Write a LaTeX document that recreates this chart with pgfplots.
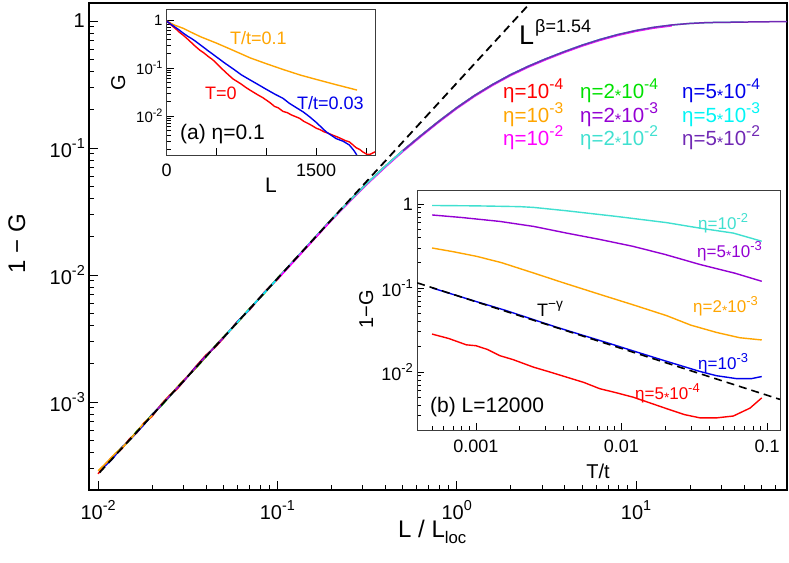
\documentclass[border=0pt]{standalone}
\usepackage{pgfplots}
\pgfplotsset{compat=1.18}
\usepackage{fontspec}
\setmainfont{Liberation Sans}
\newcommand{\fs}[1]{\fontsize{#1}{#1}\selectfont}
\newcommand{\st}{\raisebox{-0.12em}{\scalebox{0.8}{*}}}
\newcommand{\sps}[1]{\raisebox{0.45em}{\scalebox{0.76}{#1}}}
\newcommand{\tsp}[1]{\raisebox{0.42em}{\scalebox{0.72}{#1}}}
\definecolor{cRed}{RGB}{255,0,0}
\definecolor{cGreen}{RGB}{0,225,0}
\definecolor{cBlue}{RGB}{0,0,235}
\definecolor{cOrange}{RGB}{255,165,0}
\definecolor{cViolet}{RGB}{148,0,211}
\definecolor{cCyan}{RGB}{0,245,245}
\definecolor{cMag}{RGB}{255,0,255}
\definecolor{cTurq}{RGB}{64,224,208}
\definecolor{cPurp}{RGB}{112,40,180}
\definecolor{cFrame}{RGB}{60,60,60}
\begin{document}
\begin{tikzpicture}
\useasboundingbox (0pt,0pt) rectangle (789pt,562pt);
% ---------------- main axis ----------------
\begin{axis}[at={(89pt,72pt)}, anchor=south west, scale only axis,
  width=698pt, height=487pt,
  xmode=log, ymode=log, xmin=0.0089, xmax=69.5, ymin=2.03e-4, ymax=1.387,
  axis line style={line width=1.3pt, black},
  tick align=inside, xtick pos=bottom, ytick pos=left,
  major tick length=9pt, minor tick length=5pt,
  tick style={black, line width=0.9pt},
  xtick={0.01,0.1,1,10},
  xticklabels={10\tsp{-2},10\tsp{-1},10\tsp{0},10\tsp{1}},
  minor xtick={0.02,0.03,0.04,0.05,0.06,0.07,0.08,0.09,0.2,0.3,0.4,0.5,0.6,0.7,0.8,0.9,2,3,4,5,6,7,8,9,20,30,40,50,60},
  ytick={1e-3,1e-2,1e-1,1},
  yticklabels={10\tsp{-3},10\tsp{-2},10\tsp{-1},1},
  minor ytick={3e-4,4e-4,5e-4,6e-4,7e-4,8e-4,9e-4,2e-3,3e-3,4e-3,5e-3,6e-3,7e-3,8e-3,9e-3,2e-2,3e-2,4e-2,5e-2,6e-2,7e-2,8e-2,9e-2,0.2,0.3,0.4,0.5,0.6,0.7,0.8,0.9},
  ticklabel style={font=\fs{20}},
  xticklabel style={anchor=base, yshift=-29pt},
  yticklabel style={anchor=east, inner sep=0pt, xshift=-4pt},
  every axis plot/.append style={line width=1.5pt, line join=round},
]
\addplot[cRed] coordinates {(0.0100,2.72e-4)(0.0110,3.25e-4)(0.0120,3.70e-4)(0.0135,4.25e-4)(0.0150,5.15e-4)(0.0165,5.75e-4)(0.0180,6.85e-4)(0.0200,7.70e-4)(0.0225,9.6e-4)(0.0250,1.13e-3)(0.0275,1.26e-3)(0.0300,1.45e-3)(0.0350,1.90e-3)(0.0400,2.35e-3)(0.0450,2.70e-3)(0.0500,3.18e-3)(0.0600,4.33e-3)(0.0700,5.32e-3)(0.0850,7.40e-3)(0.1000,9.25e-3)(0.1250,1.33e-2)(0.1580,1.88e-2)(0.1995,2.73e-2)(0.2512,3.79e-2)(0.3162,5.25e-2)};
\addplot[cGreen] coordinates {(0.0115,3.45e-4)(0.0135,4.35e-4)(0.0150,5.00e-4)(0.0165,5.95e-4)(0.0180,6.70e-4)(0.0200,8.0e-4)(0.0225,9.3e-4)(0.0250,1.10e-3)(0.0275,1.30e-3)(0.0300,1.48e-3)(0.0350,1.84e-3)(0.0400,2.27e-3)(0.0450,2.78e-3)(0.0500,3.25e-3)(0.0600,4.22e-3)(0.0700,5.48e-3)(0.0850,7.22e-3)(0.1000,9.45e-3)(0.1250,1.31e-2)(0.1580,1.90e-2)(0.1995,2.71e-2)(0.2512,3.81e-2)(0.3162,5.27e-2)(0.3981,7.14e-2)(0.5012,9.53e-2)};
\addplot[cBlue] coordinates {(0.0105,2.98e-4)(0.0120,3.55e-4)(0.0135,4.38e-4)(0.0150,5.0e-4)(0.0165,5.80e-4)(0.0180,6.62e-4)(0.0200,7.95e-4)(0.0225,9.5e-4)(0.0250,1.115e-3)(0.0300,1.46e-3)(0.0350,1.88e-3)(0.0400,2.31e-3)(0.0500,3.20e-3)(0.0600,4.30e-3)(0.0700,5.38e-3)(0.0850,7.33e-3)(0.1000,9.33e-3)(0.1250,1.32e-2)(0.1580,1.89e-2)(0.1995,2.72e-2)(0.2512,3.80e-2)(0.3162,5.26e-2)(0.3981,7.14e-2)(0.5012,9.53e-2)(0.6310,0.1250)(0.7943,0.1622)};
\addplot[cOrange] coordinates {(0.0100,2.88e-4)(0.0112,3.35e-4)(0.0125,3.95e-4)(0.0140,4.55e-4)(0.0150,5.02e-4)(0.0170,6.2e-4)(0.0185,7.1e-4)(0.0200,7.80e-4)(0.0230,9.9e-4)(0.0260,1.19e-3)(0.0300,1.49e-3)(0.0350,1.85e-3)(0.0400,2.29e-3)(0.0500,3.24e-3)(0.0600,4.24e-3)(0.0700,5.45e-3)(0.0850,7.27e-3)(0.1000,9.40e-3)(0.1250,1.32e-2)(0.1580,1.90e-2)(0.1995,2.73e-2)(0.2512,3.80e-2)(0.3162,5.27e-2)(0.3981,7.15e-2)(0.5012,9.55e-2)(0.6310,0.1252)(0.7943,0.1625)(1.0,0.2078)(1.259,0.2596)(1.585,0.3164)};
\addplot[cViolet] coordinates {(0.0200,7.87e-4)(0.0250,1.11e-3)(0.0300,1.47e-3)(0.0400,2.30e-3)(0.0500,3.22e-3)(0.0600,4.27e-3)(0.0700,5.41e-3)(0.0850,7.30e-3)(0.1000,9.37e-3)(0.1250,1.32e-2)(0.1580,1.90e-2)(0.1995,2.72e-2)(0.2512,3.80e-2)(0.3162,5.26e-2)(0.3981,7.14e-2)(0.5012,9.53e-2)(0.6310,0.1250)(0.7943,0.1622)(1.0,0.2075)(1.259,0.2594)(1.585,0.3162)(1.995,0.3776)(2.512,0.4406)(3.162,0.5058)};
\addplot[cCyan] coordinates {(0.0500,3.22e-3)(0.0600,4.27e-3)(0.0700,5.41e-3)(0.0850,7.30e-3)(0.1000,9.37e-3)(0.1250,1.32e-2)(0.1580,1.90e-2)(0.1995,2.72e-2)(0.2512,3.80e-2)(0.3162,5.26e-2)(0.3981,7.14e-2)(0.5012,9.53e-2)(0.6310,0.1250)(0.7943,0.1622)(1.0,0.2075)(1.259,0.2594)(1.585,0.3162)(1.995,0.3776)(2.512,0.4406)(3.162,0.5058)(3.981,0.5741)(5.012,0.6457)(6.310,0.7161)(7.943,0.7834)};
\addplot[cMag] coordinates {(0.1000,9.23e-3)(0.1250,1.30e-2)(0.1580,1.87e-2)(0.1995,2.68e-2)(0.2512,3.74e-2)(0.3162,5.18e-2)(0.3981,7.03e-2)(0.5012,9.39e-2)(0.6310,0.1231)(0.7943,0.1598)(1.0,0.2044)(1.259,0.2555)(1.585,0.3115)(1.995,0.3719)(2.512,0.4340)(3.162,0.4982)(3.981,0.5655)(5.012,0.6360)(6.310,0.7054)(7.943,0.7716)(10.0,0.8304)(12.59,0.8799)(15.85,0.9172)};
\addplot[cTurq] coordinates {(0.1995,2.72e-2)(0.2512,3.80e-2)(0.3162,5.26e-2)(0.3981,7.14e-2)(0.5012,9.53e-2)(0.6310,0.1250)(0.7943,0.1622)(1.0,0.2075)(1.259,0.2594)(1.585,0.3162)(1.995,0.3776)(2.512,0.4406)(3.162,0.5058)(3.981,0.5741)(5.012,0.6457)(6.310,0.7161)(7.943,0.7834)(10.0,0.8430)(12.59,0.8933)(15.85,0.9312)(19.95,0.9572)(25.12,0.9727)(31.62,0.9772)(39.81,0.9817)};
\addplot[cPurp] coordinates {(0.5012,9.53e-2)(0.6310,0.1250)(0.7943,0.1622)(1.0,0.2075)(1.259,0.2594)(1.585,0.3162)(1.995,0.3776)(2.512,0.4406)(3.162,0.5058)(3.981,0.5741)(5.012,0.6457)(6.310,0.7161)(7.943,0.7834)(10.0,0.8430)(12.59,0.8933)(15.85,0.9312)(19.95,0.9572)(25.12,0.9727)(31.62,0.9772)(39.81,0.9817)(50.12,0.9863)(63.10,0.9886)(70.8,0.990)};
\addplot[black, line width=1.8pt, dash pattern=on 8pt off 5pt] coordinates {(0.0102,2.79e-4)(3.0,1.76)};
\end{axis}
% ---------------- inset (a) ----------------
\begin{axis}[at={(166.7pt,407pt)}, anchor=south west, scale only axis,
  width=208.3pt, height=145.7pt,
  ymode=log, xmin=0, xmax=2090, ymin=1.55e-3, ymax=1.67,
  axis background/.style={fill=white},
  axis line style={line width=0.9pt, cFrame},
  tick align=inside, xtick pos=bottom, ytick pos=left,
  major tick length=7pt, minor tick length=4pt,
  tick style={black, line width=0.7pt},
  xtick={0,500,1000,1500,2000}, xticklabels={0,,,1500,},
  ytick={1e-2,1e-1,1}, yticklabels={10\tsp{-2},10\tsp{-1},1},
  minor ytick={2e-3,3e-3,4e-3,5e-3,6e-3,7e-3,8e-3,9e-3,2e-2,3e-2,4e-2,5e-2,6e-2,7e-2,8e-2,9e-2,0.2,0.3,0.4,0.5,0.6,0.7,0.8,0.9},
  xticklabel style={font=\fs{18}, anchor=base, yshift=-22pt},
  yticklabel style={font=\fs{15}, anchor=east, inner sep=0pt, xshift=-4pt},
  every axis plot/.append style={line width=1.4pt, line join=round},
]
\addplot[cOrange] coordinates {(0,0.95)(80,0.78)(167,0.67)(250,0.55)(340,0.448)(500,0.33)(670,0.232)(840,0.162)(1000,0.123)(1170,0.093)(1340,0.0715)(1500,0.058)(1700,0.045)(1910,0.0348)};
\addplot[cRed] coordinates {(0,0.95)(30,0.84)(60,0.74)(100,0.63)(130,0.55)(167,0.48)(210,0.40)(250,0.335)(290,0.28)(333,0.235)(375,0.205)(420,0.172)(460,0.15)(500,0.125)(540,0.103)(580,0.086)(620,0.072)(667,0.059)(710,0.052)(750,0.046)(790,0.040)(833,0.035)(875,0.031)(920,0.0272)(960,0.0245)(1000,0.0215)(1040,0.0188)(1080,0.0160)(1120,0.0148)(1167,0.0125)(1210,0.0118)(1250,0.0106)(1290,0.0098)(1333,0.0090)(1375,0.0078)(1420,0.0070)(1460,0.0063)(1500,0.0056)(1540,0.0052)(1580,0.0047)(1620,0.0044)(1667,0.0040)(1710,0.0037)(1750,0.0034)(1790,0.0031)(1833,0.0029)(1870,0.0025)(1900,0.0022)(1940,0.0020)(1967,0.0018)(2010,0.0016)(2040,0.0016)(2090,0.0018)};
\addplot[cBlue] coordinates {(0,0.95)(40,0.82)(80,0.72)(125,0.62)(167,0.53)(210,0.46)(250,0.41)(290,0.36)(340,0.30)(380,0.26)(420,0.225)(460,0.196)(500,0.17)(580,0.128)(670,0.095)(750,0.072)(840,0.056)(920,0.045)(1000,0.036)(1080,0.029)(1167,0.0234)(1230,0.0185)(1300,0.0150)(1370,0.0122)(1433,0.0097)(1500,0.0074)(1550,0.0059)(1600,0.0047)(1650,0.0040)(1700,0.0034)(1770,0.0030)(1833,0.0025)(1880,0.0019)(1907,0.00155)};
\end{axis}
% ---------------- inset (b) ----------------
\begin{axis}[at={(417pt,132pt)}, anchor=south west, scale only axis,
  width=363pt, height=239.3pt,
  xmode=log, ymode=log, xmin=3.94e-4, xmax=0.1228, ymin=2.03e-3, ymax=1.44,
  axis background/.style={fill=white},
  axis line style={line width=0.9pt, cFrame},
  tick align=inside, xtick pos=bottom, ytick pos=left,
  major tick length=7pt, minor tick length=4pt,
  tick style={black, line width=0.7pt},
  xtick={0.001,0.01,0.1}, xticklabels={0.001,0.01,0.1},
  minor xtick={5e-4,6e-4,7e-4,8e-4,9e-4,2e-3,3e-3,4e-3,5e-3,6e-3,7e-3,8e-3,9e-3,2e-2,3e-2,4e-2,5e-2,6e-2,7e-2,8e-2,9e-2},
  ytick={1e-2,1e-1,1}, yticklabels={10\tsp{-2},10\tsp{-1},1},
  minor ytick={3e-3,4e-3,5e-3,6e-3,7e-3,8e-3,9e-3,2e-2,3e-2,4e-2,5e-2,6e-2,7e-2,8e-2,9e-2,0.2,0.3,0.4,0.5,0.6,0.7,0.8,0.9},
  xticklabel style={font=\fs{18}, anchor=base, yshift=-22pt},
  yticklabel style={font=\fs{18}, anchor=east, inner sep=0pt, xshift=-4pt},
  every axis plot/.append style={line width=1.4pt, line join=round},
]
\addplot[cTurq] coordinates {(5e-4,0.96)(1e-3,0.95)(2e-3,0.93)(2.5e-3,0.91)(4.2e-3,0.83)(9.3e-3,0.71)(0.0204,0.60)(0.0347,0.515)(0.0587,0.45)(0.092,0.36)};
\addplot[cViolet] coordinates {(5e-4,0.74)(8e-4,0.69)(1.46e-3,0.62)(2.5e-3,0.54)(4.2e-3,0.45)(7e-3,0.38)(0.012,0.313)(0.02,0.25)(0.0347,0.19)(0.06,0.15)(0.092,0.12)};
\addplot[cOrange] coordinates {(5e-4,0.299)(7e-4,0.27)(1.01e-3,0.238)(1.5e-3,0.20)(2.48e-3,0.151)(4e-3,0.115)(7.1e-3,0.0838)(0.012,0.063)(0.0204,0.0468)(0.03,0.036)(0.045,0.0295)(0.065,0.0255)(0.092,0.024)};
\addplot[cBlue] coordinates {(5e-4,0.100)(1e-3,0.069)(1.6e-3,0.054)(2.48e-3,0.042)(3.5e-3,0.0345)(5e-3,0.0285)(8e-3,0.0222)(0.012,0.0178)(0.02,0.0135)(0.0347,0.0101)(0.045,0.0090)(0.062,0.0083)(0.078,0.0083)(0.092,0.0088)};
\addplot[cRed] coordinates {(5e-4,0.0282)(6.5e-4,0.025)(8.6e-4,0.021)(1e-3,0.0205)(1.2e-3,0.0185)(1.46e-3,0.0156)(1.8e-3,0.0140)(2.48e-3,0.0114)(3.2e-3,0.0100)(4.2e-3,0.00865)(5.5e-3,0.0075)(7.1e-3,0.0063)(9e-3,0.0057)(0.012,0.0050)(0.0155,0.0043)(0.0204,0.00365)(0.027,0.0031)(0.0347,0.00283)(0.045,0.00283)(0.0587,0.00298)(0.0764,0.0037)(0.092,0.0049)};
\addplot[black, line width=1.6pt, dash pattern=on 8pt off 5pt] coordinates {(3.95e-4,0.115)(0.1228,0.0047)};
\end{axis}
% ---------------- texts ----------------
% main
\node[anchor=base, rotate=90, inner sep=0pt] at (25pt,318.5pt) {\fs{24}1 − G};
\node[anchor=base west, inner sep=0pt] at (398pt,25pt) {\fs{24}L / L\raisebox{-0.28em}{\scalebox{0.7}{loc}}};
\node[anchor=base west, inner sep=0pt] at (519pt,517pt) {\fs{27}L};
\node[anchor=base west, inner sep=0pt] at (535pt,529pt) {\fs{18}β=1.54};
\node[anchor=base west, inner sep=0pt, cRed] at (503pt,463pt) {\fs{20.5}η=10\sps{-4}};
\node[anchor=base west, inner sep=0pt, cGreen] at (580pt,463pt) {\fs{20.5}η=2\st10\sps{-4}};
\node[anchor=base west, inner sep=0pt, cBlue] at (682pt,463pt) {\fs{20.5}η=5\st10\sps{-4}};
\node[anchor=base west, inner sep=0pt, cOrange] at (503pt,439.3pt) {\fs{20.5}η=10\sps{-3}};
\node[anchor=base west, inner sep=0pt, cViolet] at (580pt,439.3pt) {\fs{20.5}η=2\st10\sps{-3}};
\node[anchor=base west, inner sep=0pt, cCyan] at (682pt,439.3pt) {\fs{20.5}η=5\st10\sps{-3}};
\node[anchor=base west, inner sep=0pt, cMag] at (503pt,416pt) {\fs{20.5}η=10\sps{-2}};
\node[anchor=base west, inner sep=0pt, cTurq] at (580pt,416pt) {\fs{20.5}η=2\st10\sps{-2}};
\node[anchor=base west, inner sep=0pt, cPurp] at (682pt,416pt) {\fs{20.5}η=5\st10\sps{-2}};
% inset a
\node[anchor=base, rotate=90, inner sep=0pt] at (125pt,479pt) {\fs{20}G};
\node[anchor=base west, inner sep=0pt] at (265pt,369pt) {\fs{21}L};
\node[anchor=base west, inner sep=0pt, cOrange] at (230pt,517pt) {\fs{18}T/t=0.1};
\node[anchor=base west, inner sep=0pt, cRed] at (205pt,462pt) {\fs{18}T=0};
\node[anchor=base west, inner sep=0pt, cBlue] at (297pt,452pt) {\fs{18}T/t=0.03};
\node[anchor=base west, inner sep=0pt] at (180pt,422pt) {\fs{21}(a) η=0.1};
% inset b
\node[anchor=base, rotate=90, inner sep=0pt] at (373pt,253pt) {\fs{20}1−G};
\node[anchor=base, inner sep=0pt] at (598pt,84pt) {\fs{20}T/t};
\node[anchor=base west, inner sep=0pt, cTurq] at (698pt,332pt) {\fs{17}η=10\sps{-2}};
\node[anchor=base west, inner sep=0pt, cViolet] at (697pt,304pt) {\fs{17}η=5\st10\sps{-3}};
\node[anchor=base west, inner sep=0pt, cOrange] at (693pt,249pt) {\fs{17}η=2\st10\sps{-3}};
\node[anchor=base west, inner sep=0pt, cBlue] at (698pt,192pt) {\fs{17}η=10\sps{-3}};
\node[anchor=base west, inner sep=0pt, cRed] at (635pt,162pt) {\fs{17}η=5\st10\sps{-4}};
\node[anchor=base west, inner sep=0pt] at (537pt,245pt) {\fs{18}T\sps{−γ}};
\node[anchor=base west, inner sep=0pt] at (430pt,149pt) {\fs{21}(b) L=12000};
\end{tikzpicture}
\end{document}
